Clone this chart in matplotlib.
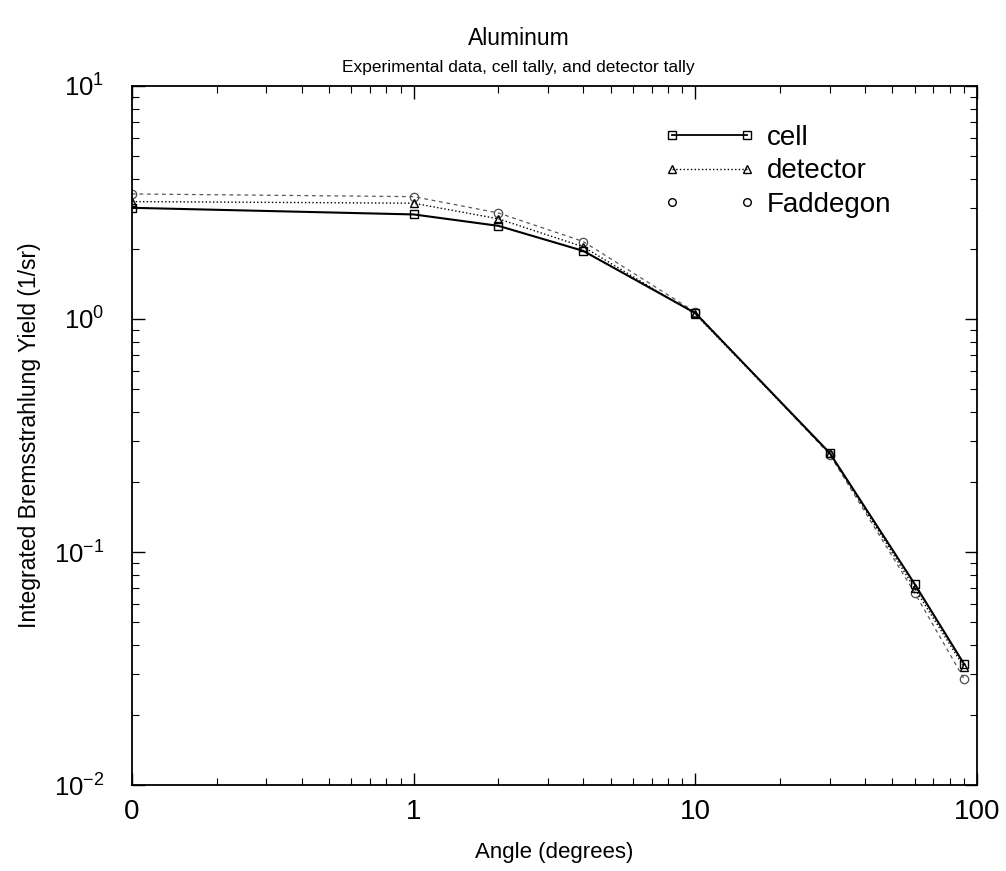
import numpy as np
import matplotlib
matplotlib.use("Agg")
import matplotlib.pyplot as plt
from matplotlib.lines import Line2D
from matplotlib.ticker import FixedLocator, FixedFormatter, LogLocator

plt.rcParams['font.family'] = ['Liberation Sans', 'DejaVu Sans']
plt.rcParams['mathtext.fontset'] = 'custom'
plt.rcParams['mathtext.rm'] = 'Liberation Sans'
plt.rcParams['mathtext.it'] = 'Liberation Sans:italic'

# angles in degrees (0 is drawn at the left edge of the log axis)
angles = np.array([0, 1, 2, 4, 10, 30, 60, 90])
cell = [3.00, 2.81, 2.51, 1.96, 1.06, 0.266, 0.073, 0.033]
detector = [3.19, 3.14, 2.69, 2.04, 1.05, 0.265, 0.070, 0.032]
faddegon = [3.44, 3.35, 2.85, 2.15, 1.07, 0.262, 0.067, 0.0285]

x_ticks = [0.1, 1, 10, 100]
x_ticklabels = ['0', '1', '10', '100']

xpos = np.where(angles == 0, 0.1, angles)

fig = plt.figure(figsize=(10.06, 8.71), dpi=100)
ax = fig.add_axes([0.1312, 0.0987, 0.84, 0.8026])

ax.plot(xpos, faddegon, color='0.35', lw=0.9, dashes=(3, 3),
        marker='o', ms=6, mfc='none', mec='0.3', mew=0.9)
ax.plot(xpos, detector, color='black', lw=1.0, ls=':',
        marker='^', ms=6, mfc='none', mec='black', mew=1.0)
ax.plot(xpos, cell, color='black', lw=1.5, ls='-',
        marker='s', ms=6, mfc='none', mec='black', mew=1.0)

ax.set_xscale('log')
ax.set_yscale('log')
ax.set_xlim(0.1, 100)
ax.set_ylim(0.01, 10)
ax.xaxis.set_major_locator(FixedLocator(x_ticks))
ax.xaxis.set_major_formatter(FixedFormatter(x_ticklabels))
ax.xaxis.set_minor_locator(LogLocator(base=10, subs=np.arange(2, 10)))
ax.yaxis.set_minor_locator(LogLocator(base=10, subs=np.arange(2, 10)))

ax.tick_params(which='both', direction='in', top=True, right=True)
ax.tick_params(which='major', length=9, width=1.0)
ax.tick_params(which='minor', length=5, width=0.8)
ax.tick_params(axis='x', which='major', labelsize=20, pad=10)
ax.tick_params(axis='y', which='major', labelsize=18.5, pad=20)
for s in ax.spines.values():
    s.set_linewidth(1.3)

ax.set_xlabel('Angle (degrees)', fontsize=16, labelpad=12)
ax.set_ylabel('Integrated Bremsstrahlung Yield (1/sr)', fontsize=16.5, labelpad=6)
ax.yaxis.set_label_coords(-0.108, 0.5)

fig.text(0.5155, 0.956, 'Aluminum', ha='center', va='center', fontsize=16.5)
fig.text(0.5155, 0.923, 'Experimental data, cell tally, and detector tally',
         ha='center', va='center', fontsize=12.5)

handles = [
    Line2D([], [], color='black', lw=1.3, marker='s', ms=5.5, mfc='none', mec='black'),
    Line2D([], [], color='black', lw=1.0, ls=':', marker='^', ms=5.5, mfc='none', mec='black'),
    Line2D([], [], ls='none', marker='o', ms=5.5, mfc='none', mec='black'),
]
ax.legend(handles, ['cell', 'detector', 'Faddegon'], loc='upper left',
          bbox_to_anchor=(0.635, 0.885), bbox_transform=fig.transFigure,
          frameon=False, fontsize=20, numpoints=2, handlelength=3.3,
          handletextpad=0.4, labelspacing=0.26)

fig.savefig('out.png', dpi=100)
